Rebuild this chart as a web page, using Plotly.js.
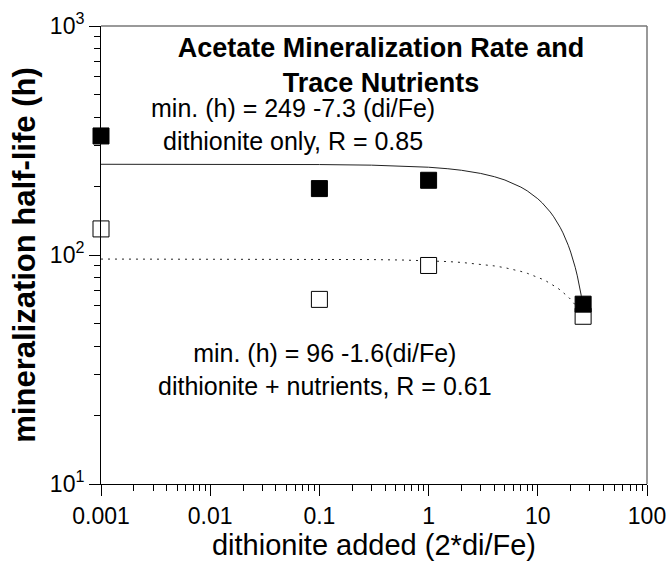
<!DOCTYPE html>
<html>
<head>
<meta charset="utf-8">
<script src="https://cdn.plot.ly/plotly-3.0.1.min.js"></script>
<style>html,body{margin:0;padding:0;background:#fff;}</style>
</head>
<body>
<div id="chart" style="width:672px;height:567px;"></div>
<script>
const diFe = [0.001, 0.1, 1, 26];
const dithioniteOnly = [331, 195, 212, 61];
const dithioniteNutrients = [130, 64, 90, 54];

// Fit lines as printed on the chart: min.(h) = a + b*(di/Fe)
const fitOnlyCoef = [249, -7.3];
const fitNutrCoef = [96, -1.6];
const fitX = [0.001, 0.01, 0.1, 0.3, 0.6, 1, 1.5, 2, 3, 4, 5, 6, 7, 8, 9, 10, 11, 12, 13, 14, 15, 16, 17, 18, 19, 20, 21, 22, 23, 24, 25, 26];
const fitOnlyY = fitX.map(x => fitOnlyCoef[0] + fitOnlyCoef[1] * x);
const fitNutrY = fitX.map(x => fitNutrCoef[0] + fitNutrCoef[1] * x);

const xTickVals = [0.001, 0.01, 0.1, 1, 10, 100];
const xTickText = ['0.001', '0.01', '0.1', '1', '10', '100'];
const yTickVals = [10, 100, 1000];
const yTickText = ['10<sup>1</sup>', '10<sup>2</sup>', '10<sup>3</sup>'];

const FONT = 'Liberation Sans, Arial, sans-serif';

const traces = [
  {x: fitX, y: fitOnlyY, mode: 'lines', line: {color: '#222', width: 1}, hoverinfo: 'skip', showlegend: false},
  {x: fitX, y: fitNutrY, mode: 'lines', line: {color: '#222', width: 1, dash: '2px,5px'}, hoverinfo: 'skip', showlegend: false},
  {x: diFe, y: dithioniteNutrients, mode: 'markers', name: 'dithionite + nutrients', cliponaxis: false,
   marker: {symbol: 'square', size: 16, color: '#fff', line: {color: '#000', width: 1}}, showlegend: false},
  {x: diFe, y: dithioniteOnly, mode: 'markers', name: 'dithionite only', cliponaxis: false,
   marker: {symbol: 'square', size: 16, color: '#000', line: {color: '#000', width: 1}}, showlegend: false}
];

const layout = {
  width: 672, height: 567,
  margin: {l: 101, r: 25, t: 26, b: 83, pad: 0},
  paper_bgcolor: '#fff', plot_bgcolor: '#fff',
  font: {family: FONT, color: '#000', size: 23},
  showlegend: false,
  title: {
    text: '<b>Acetate Mineralization Rate and<br>Trace Nutrients</b>',
    font: {family: FONT, size: 27, color: '#000'},
    xref: 'container', yref: 'container',
    x: 0.567, y: 0.900, xanchor: 'center', yanchor: 'middle'
  },
  xaxis: {
    type: 'log', range: [-3, 2],
    tickvals: xTickVals, ticktext: xTickText,
    ticks: 'outside', ticklen: 11, tickwidth: 1, tickcolor: '#000',
    minor: {ticks: 'outside', ticklen: 6, tickwidth: 1, tickcolor: '#000', dtick: 'D1', showgrid: false},
    showline: true, linecolor: '#000', linewidth: 1, mirror: false,
    showgrid: false, zeroline: false,
    tickfont: {family: FONT, size: 23, color: '#000'},
    title: {text: 'dithionite added (2*di/Fe)', font: {family: FONT, size: 29, color: '#000'}, standoff: 7},
    automargin: false
  },
  yaxis: {
    type: 'log', range: [1, 3],
    tickvals: yTickVals, ticktext: yTickText,
    ticks: 'outside', ticklen: 11, tickwidth: 1, tickcolor: '#000',
    minor: {ticks: 'outside', ticklen: 6, tickwidth: 1, tickcolor: '#000', dtick: 'D1', showgrid: false},
    showline: true, linecolor: '#000', linewidth: 1, mirror: false,
    showgrid: false, zeroline: false,
    tickfont: {family: FONT, size: 23, color: '#000'},
    title: {text: '<b>mineralization half-life (h)</b>', font: {family: FONT, size: 31, color: '#000'}, standoff: 5},
    automargin: false
  },
  shapes: [
    {type: 'line', xref: 'paper', yref: 'paper', x0: 0, x1: 1, y0: 1, y1: 1, line: {color: '#777', width: 1.5}},
    {type: 'line', xref: 'paper', yref: 'paper', x0: 1, x1: 1, y0: 0, y1: 1, line: {color: '#777', width: 1.5}}
  ],
  annotations: [
    {text: 'min. (h) = 249 -7.3 (di/Fe)<br>dithionite only, R = 0.85', xref: 'paper', yref: 'paper',
     x: 0.352, y: 0.786, xanchor: 'center', yanchor: 'middle', showarrow: false,
     font: {family: FONT, size: 25, color: '#000'}},
    {text: 'min. (h) = 96 -1.6(di/Fe)<br>dithionite + nutrients, R = 0.61', xref: 'paper', yref: 'paper',
     x: 0.410, y: 0.25, xanchor: 'center', yanchor: 'middle', showarrow: false,
     font: {family: FONT, size: 25, color: '#000'}}
  ]
};

Plotly.newPlot('chart', traces, layout, {displayModeBar: false, staticPlot: true});
</script>
</body>
</html>
